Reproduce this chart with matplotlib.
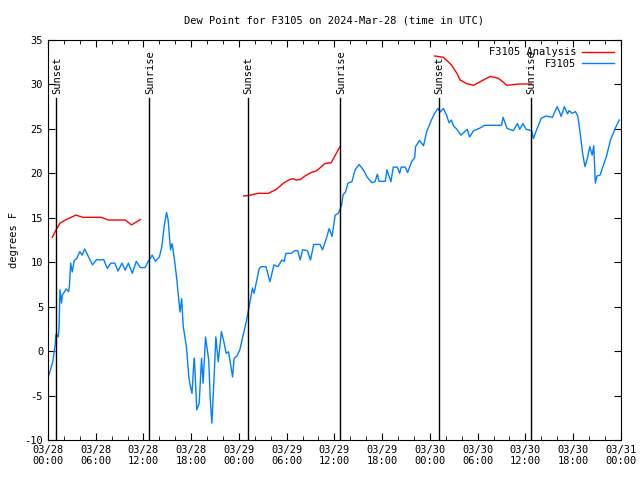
import numpy as np
import matplotlib
matplotlib.use("Agg")
import matplotlib.pyplot as plt

# hours since 03/28 00:00 UTC
obs_hr = [0.04, 0.6, 0.9, 1.0, 1.3, 1.4, 1.5, 1.7, 1.8, 2.3, 2.6, 2.7, 2.85, 3.05, 3.3, 3.6, 4.0, 4.3, 4.6,
          5.1, 5.6, 6.1, 6.5, 7.0, 7.45, 7.9, 8.4, 8.8, 9.3, 9.7, 10.1, 10.6, 11.1, 11.6, 12.2, 12.6, 13.1,
          13.5, 14.0, 14.3, 14.6, 14.9, 15.1, 15.4, 15.6, 15.9, 16.2, 16.4, 16.6, 16.8, 17.0, 17.4, 17.7,
          17.9, 18.1, 18.3, 18.4, 18.7, 19.0, 19.3, 19.5, 19.8, 20.2, 20.4, 20.6, 20.9, 21.1, 21.4, 21.8,
          22.1, 22.4, 22.7, 23.2, 23.4, 23.7, 24.1, 24.97, 25.2, 25.5, 25.7, 25.9, 26.2, 26.55, 26.8, 27.4,
          27.9, 28.4, 28.9, 29.4, 29.7, 29.9, 30.6, 31.0, 31.4, 31.7, 32.0, 32.6, 33.0, 33.4, 34.2, 34.5,
          35.0, 35.35, 35.7, 36.1, 36.5, 36.9, 37.1, 37.4, 37.7, 38.2, 38.6, 39.1, 39.6, 40.1, 40.7, 41.1,
          41.4, 41.6, 42.4, 42.6, 43.1, 43.4, 43.9, 44.2, 44.4, 44.9, 45.2, 45.7, 46.1, 46.2, 46.7, 47.2,
          47.6, 48.2, 48.6, 49.0, 49.3, 49.7, 50.1, 50.4, 50.7, 51.0, 51.4, 51.9, 52.4, 52.7, 53.0, 53.5,
          54.2, 54.9, 57.0, 57.2, 57.7, 58.5, 59.0, 59.3, 59.7, 60.1, 60.8, 61.0, 61.4, 62.0, 62.6, 63.4,
          64.0, 64.3, 64.5, 64.9, 65.3, 65.5, 65.9, 66.3, 66.6, 66.9, 67.2, 67.5, 67.8, 68.1, 68.4, 68.6,
          68.8, 69.0, 69.4, 69.8, 70.2, 70.7, 71.3, 71.8]
obs_dew = [-2.9, -1.2, 0.7, 1.9, 1.6, 2.9, 6.9, 5.4, 6.3, 7.0, 6.7, 7.4, 9.9, 8.9, 10.2, 10.4, 11.2, 10.8, 11.5,
           10.6, 9.7, 10.3, 10.25, 10.3, 9.3, 9.9, 9.9, 9.0, 9.9, 9.1, 9.9, 8.75, 10.1, 9.4, 9.4, 10.1, 10.8,
           10.1, 10.6, 11.7, 14.0, 15.6, 14.75, 11.4, 12.1, 10.25, 8.0, 6.1, 4.4, 5.9, 2.75, 0.5, -2.9,
           -4.0, -4.75, -1.75, -0.8, -6.6, -5.9, -0.8, -3.6, 1.6, -1.0, -5.5, -8.1, -2.5, 1.6, -1.2, 2.2,
           1.05, -0.25, -0.07, -2.9, -0.8, -0.6, 0.1, 3.5, 4.6, 6.1, 7.1, 6.5, 7.8, 9.3, 9.5, 9.5,
           7.8, 9.7, 9.5, 10.25, 10.1, 11.0, 11.0, 11.3, 11.3, 10.25, 11.4, 11.3, 10.25, 12.0, 12.0, 11.4,
           12.7, 13.8, 12.9, 15.3, 15.5, 16.4, 17.6, 17.9, 18.9, 19.05, 20.4, 21.0, 20.45, 19.6, 18.95, 19.05,
           19.9, 19.1, 19.1, 20.4, 19.05, 20.7, 20.7, 20.0, 20.7, 20.7, 20.1, 21.3, 21.8, 23.0, 23.7, 23.1,
           24.7, 26.0, 26.75, 27.3, 26.9, 27.3, 26.55, 25.7, 26.0, 25.3, 24.95, 24.3, 24.7, 24.95, 24.1, 24.8,
           25.05, 25.4, 25.4, 26.3, 25.05, 24.8, 25.6, 24.95, 25.6, 24.95, 24.8, 23.9, 24.85, 26.2, 26.45, 26.3,
           27.5, 26.9, 26.4, 27.5, 26.7, 27.05, 26.75, 26.95, 26.4, 24.5, 22.25, 20.75, 21.7, 23.0, 22.05, 23.1,
           18.9, 19.7, 19.8, 20.9, 21.9, 23.75, 25.05, 26.0]

ana1_hr = [0.54, 1.0, 1.5, 2.3, 3.5, 4.4, 6.7, 7.6, 9.7, 10.5, 11.6]
ana1_dew = [12.8, 13.6, 14.4, 14.8, 15.3, 15.05, 15.05, 14.75, 14.75, 14.2, 14.8]
ana2_hr = [24.6, 25.2, 26.4, 27.7, 28.7, 29.6, 30.4, 30.8, 31.2, 31.7, 32.3, 33.1, 33.8, 34.8, 35.6, 36.7]
ana2_dew = [17.45, 17.5, 17.75, 17.75, 18.2, 18.9, 19.3, 19.4, 19.25, 19.3, 19.7, 20.1, 20.3, 21.1, 21.2, 23.0]
ana3_hr = [48.6, 49.7, 50.7, 51.4, 51.8, 52.6, 53.5, 54.3, 55.6, 56.6, 57.7, 59.3, 60.8]
ana3_dew = [33.2, 33.05, 32.2, 31.25, 30.5, 30.1, 29.9, 30.3, 30.9, 30.7, 29.9, 30.05, 30.05]

sun_hr = [1.0, 12.7, 25.1, 36.7, 49.1, 60.7]
sun_lbl = ["Sunset", "Sunrise", "Sunset", "Sunrise", "Sunset", "Sunrise"]

tick_hr = list(range(0, 73, 6))
tick_lbl = ["03/28\n00:00", "03/28\n06:00", "03/28\n12:00", "03/28\n18:00",
            "03/29\n00:00", "03/29\n06:00", "03/29\n12:00", "03/29\n18:00",
            "03/30\n00:00", "03/30\n06:00", "03/30\n12:00", "03/30\n18:00", "03/31\n00:00"]

plt.rcParams['font.family'] = 'DejaVu Sans Mono'
plt.rcParams['font.size'] = 7.5
plt.rcParams['axes.unicode_minus'] = False

fig = plt.figure(figsize=(6.4, 4.8), dpi=100)
ax = fig.add_axes([0.075, 0.0833, 0.895, 0.8334])

red = "#ff0000"
blue = "#0080ff"
ax.plot(ana1_hr, ana1_dew, color=red, lw=1, label="F3105 Analysis")
ax.plot(ana2_hr, ana2_dew, color=red, lw=1)
ax.plot(ana3_hr, ana3_dew, color=red, lw=1)
ax.plot(obs_hr, obs_dew, color=blue, lw=1, label="F3105")

for h, s in zip(sun_hr, sun_lbl):
    ax.plot([h, h], [-10, 28.5], color="black", lw=1)
    ax.text(h + 0.1, 28.9, s, rotation=90, ha="center", va="bottom")

ax.set_xlim(0, 72)
ax.set_ylim(-10, 35)
ax.set_xticks(tick_hr)
ax.set_xticklabels(tick_lbl)
ax.set_xticks(range(0, 73, 2), minor=True)
ax.set_yticks(range(-10, 36, 5))
ax.tick_params(which="both", direction="in", top=True, right=True)
ax.tick_params(which="major", length=5)
ax.tick_params(which="minor", length=3)
ax.set_ylabel("degrees F")
ax.set_title("Dew Point for F3105 on 2024-Mar-28 (time in UTC)", fontsize=7.5, pad=12)

ax.legend(loc="upper right", frameon=False, markerfirst=False, handlelength=3.0,
          borderaxespad=0.3, labelspacing=0.15, handletextpad=0.6)

fig.savefig("out.png", dpi=100)
